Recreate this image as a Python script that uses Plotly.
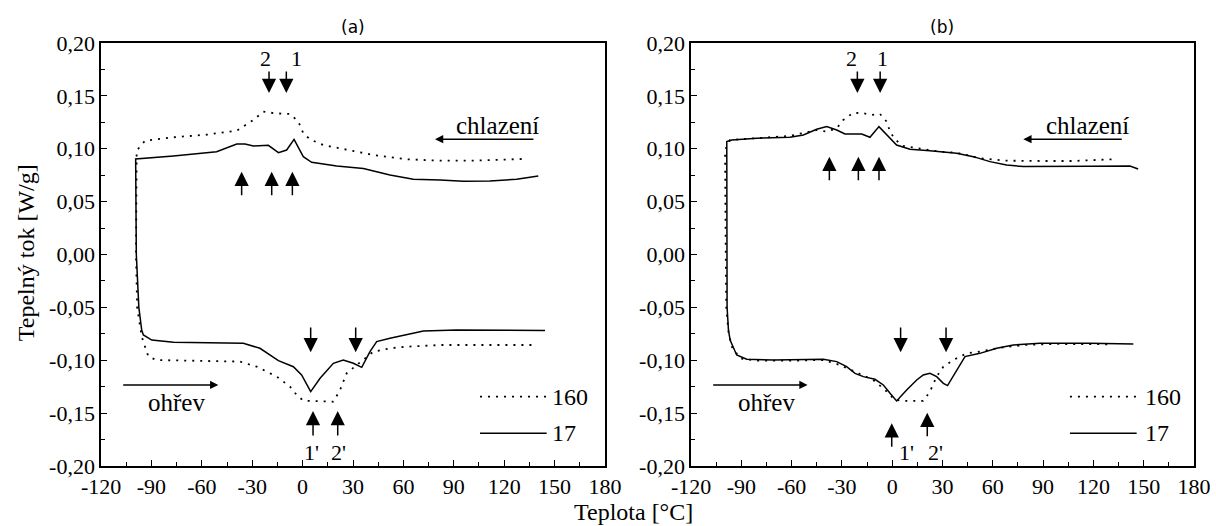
import plotly.graph_objects as go

# ---------------- data ----------------
# Panel (a): solid curve "17" (cooling branch right->left, then heating branch left->right)
A17_T = [140.3, 127.4, 111.5, 95.7, 81.8, 65.9, 52.0, 36.2, 20.3, 5.4, 0.4, -5.1, -9.5, -14.4,
         -20.4, -29.3, -34.3, -39.2, -51.2, -76.9, -99.4, -99.0, -97.5, -95.8, -94.8, -89.8,
         -76.9, -57.1, -35.3, -25.4, -19.4, -14.4, -5.5, -0.6, 4.8, 10.4, 18.3, 24.2, 30.2,
         35.2, 40.1, 44.1, 52.0, 63.9, 71.9, 91.7, 121.5, 144.3]
A17_W = [0.0742, 0.0711, 0.0695, 0.0692, 0.0704, 0.0711, 0.0752, 0.0812, 0.0837, 0.0872, 0.0925,
         0.1089, 0.0988, 0.0963, 0.1032, 0.1026, 0.1045, 0.1045, 0.0972, 0.0931, 0.0903, 0.0,
         -0.05, -0.0714, -0.0761, -0.0809, -0.0831, -0.0834, -0.0840, -0.0887, -0.0950, -0.1004,
         -0.1061, -0.1139, -0.1297, -0.1171, -0.1029, -0.0998, -0.1029, -0.1067, -0.0919,
         -0.0824, -0.0793, -0.0752, -0.0723, -0.0714, -0.0714, -0.0720]
# Panel (a): dotted curve "160"
A160_T = [130.4, 101.6, 81.8, 61.9, 42.1, 28.2, 12.3, 4.4, 0.4, -2.5, -7.5, -16.4, -23.4, -29.3,
          -39.2, -57.1, -76.9, -93.8, -98.8, -99.2, -98.5, -95.8, -91.8, -86.9, -67.0, -47.2,
          -37.3, -27.3, -15.4, -7.5, -3.5, 0.4, 18.3, 22.3, 26.2, 32.2, 42.1, 52.0, 61.9, 81.8,
          137.3]
A160_W = [0.0903, 0.0887, 0.0887, 0.0900, 0.0941, 0.0982, 0.1035, 0.1089, 0.1146, 0.1256, 0.1329,
          0.1335, 0.1351, 0.1272, 0.1171, 0.1133, 0.1108, 0.1076, 0.0982, 0.0, -0.05, -0.0777,
          -0.0966, -0.0998, -0.1004, -0.1004, -0.1013, -0.1061, -0.1155, -0.1250, -0.1329,
          -0.1382, -0.1392, -0.1281, -0.1124, -0.1045, -0.0919, -0.0887, -0.0872, -0.0856,
          -0.0856]
# Panel (b): solid curve "17"
B17_T = [146.7, 141.8, 117.9, 98.0, 78.2, 68.2, 58.3, 48.4, 38.4, 22.5, 10.6, 2.6, -3.3, -7.9,
         -13.3, -18.2, -28.2, -33.1, -39.1, -45.1, -53.0, -61.0, -80.8, -95.7, -98.7, -98.8,
         -98.5, -97.7, -96.7, -92.8, -86.8, -70.9, -51.0, -41.1, -33.1, -27.2, -22.2, -17.2,
         -10.3, -5.3, -1.3, 2.6, 8.6, 14.6, 18.5, 22.5, 26.5, 30.5, 33.0, 38.4, 43.4, 52.3,
         62.3, 72.2, 88.1, 117.9, 143.8]
B17_W = [0.0809, 0.0837, 0.0834, 0.0831, 0.0831, 0.0846, 0.0878, 0.0925, 0.0957, 0.0982, 0.0995,
         0.1035, 0.1130, 0.1209, 0.1108, 0.1139, 0.1139, 0.1177, 0.1209, 0.1184, 0.1130, 0.1108,
         0.1099, 0.1083, 0.1067, 0.0, -0.05, -0.0714, -0.0809, -0.0950, -0.0991, -0.0998,
         -0.0991, -0.0991, -0.1013, -0.1061, -0.1124, -0.1155, -0.1180, -0.1234, -0.1313,
         -0.1385, -0.1281, -0.1187, -0.1139, -0.1124, -0.1155, -0.1218, -0.1240, -0.1092,
         -0.0966, -0.0935, -0.0887, -0.0856, -0.0840, -0.0840, -0.0846]
# Panel (b): dotted curve "160"
B160_T = [130.8, 108.0, 88.1, 68.2, 52.3, 38.4, 28.5, 18.5, 6.6, 1.6, -1.3, -3.3, -7.3, -12.3,
          -17.2, -23.2, -29.2, -33.1, -39.1, -45.1, -53.0, -61.0, -96.7, -99.7, -99.3, -99.0,
          -97.7, -95.7, -90.8, -80.8, -61.0, -41.1, -31.2, -21.2, -11.3, -4.3, 1.6, 8.6, 18.5,
          22.5, 26.5, 30.5, 36.4, 44.4, 52.3, 62.3, 78.2, 98.0, 117.9, 129.9]
B160_W = [0.0900, 0.0884, 0.0884, 0.0887, 0.0909, 0.0963, 0.0972, 0.0995, 0.1026, 0.1089, 0.1162,
          0.1256, 0.1329, 0.1319, 0.1335, 0.1341, 0.1272, 0.1193, 0.1162, 0.1177, 0.1146, 0.1121,
          0.1083, 0.0988, 0.0, -0.05, -0.0730, -0.0872, -0.0982, -0.1004, -0.1004, -0.0998,
          -0.1045, -0.1117, -0.1187, -0.1281, -0.1376, -0.1385, -0.1385, -0.1297, -0.1155,
          -0.1061, -0.0998, -0.0935, -0.0919, -0.0887, -0.0856, -0.0846, -0.0846, -0.0849]

SERIES_NAMES = ["160", "17"]
PANEL_TITLES = ["(a)", "(b)"]
X_TITLE = "Teplota [°C]"
Y_TITLE = "Tepelný tok [W/g]"
X_TICKS = [-120, -90, -60, -30, 0, 30, 60, 90, 120, 150, 180]
X_TICKTEXT = ["-120", "-90", "-60", "-30", "0", "30", "60", "90", "120", "150", "180"]
Y_TICKS = [-0.20, -0.15, -0.10, -0.05, 0.0, 0.05, 0.10, 0.15, 0.20]
Y_TICKTEXT = ["-0,20", "-0,15", "-0,10", "-0,05", "0,00", "0,05", "0,10", "0,15", "0,20"]

# peak markers (T positions) per panel
A_TOP_DOWN = [-20.0, -9.7]
A_TOP_UP = [-36.3, -18.4, -6.1]
A_BOT_DOWN = [4.8, 31.6]
A_BOT_UP = [6.2, 20.9]
B_TOP_DOWN = [-20.8, -7.2]
B_TOP_UP = [-37.5, -20.2, -7.9]
B_BOT_DOWN = [5.0, 32.1]
B_BOT_UP = [-0.3, 20.9]

SERIF = '"Liberation Serif", "Times New Roman", Tinos, "Nimbus Roman", "DejaVu Serif", serif'
BLACK = "black"
DOT = "2px,6px"

fig = go.Figure()


def add_curves(t17, w17, t160, w160, xa, ya):
    fig.add_trace(go.Scatter(x=t160, y=w160, mode="lines", name=SERIES_NAMES[0],
                             line=dict(color=BLACK, width=1.8, dash=DOT),
                             xaxis=xa, yaxis=ya, showlegend=False, hoverinfo="skip"))
    fig.add_trace(go.Scatter(x=t17, y=w17, mode="lines", name=SERIES_NAMES[1],
                             line=dict(color=BLACK, width=1.5),
                             xaxis=xa, yaxis=ya, showlegend=False, hoverinfo="skip"))


add_curves(A17_T, A17_W, A160_T, A160_W, "x", "y")
add_curves(B17_T, B17_W, B160_T, B160_W, "x2", "y2")

YDOM = [0.1141, 0.9183]
axis_common = dict(showgrid=False, zeroline=False, showline=True, linecolor=BLACK,
                   linewidth=1.5, mirror=True, ticks="inside", ticklen=6, tickwidth=1.3,
                   tickcolor=BLACK, automargin=False,
                   tickfont=dict(family=SERIF, size=22, color=BLACK))
xax = dict(axis_common, range=[-120, 180], tickmode="array", tickvals=X_TICKS,
           ticktext=X_TICKTEXT,
           minor=dict(tickmode="linear", tick0=-120, dtick=15, ticks="inside", ticklen=4,
                      tickwidth=1.3, tickcolor=BLACK))
yax = dict(axis_common, range=[-0.2, 0.2], tickmode="array", tickvals=Y_TICKS,
           ticktext=Y_TICKTEXT, domain=YDOM,
           minor=dict(tickmode="linear", tick0=-0.2, dtick=0.025, ticks="inside",
                      ticklen=4, tickwidth=1.3, tickcolor=BLACK))

fig.update_layout(
    template="none",
    width=1216, height=526, margin=dict(l=0, r=0, t=0, b=0, pad=0, autoexpand=False),
    paper_bgcolor="white", plot_bgcolor="white", showlegend=False,
    font=dict(family=SERIF, color=BLACK),
    xaxis=dict(xax, domain=[0.0831, 0.4975], anchor="y"),
    yaxis=dict(yax, anchor="x"),
    xaxis2=dict(xax, domain=[0.5683, 0.9819], anchor="y2"),
    yaxis2=dict(yax, anchor="x2"),
)

ann = []
shapes = []


def arrow(xr, yr, x, y_tip, y_tail, size=1.9):
    ann.append(dict(xref=xr, yref=yr, axref=xr, ayref=yr, x=x, y=y_tip, ax=x, ay=y_tail,
                    text="", showarrow=True, arrowhead=2, arrowsize=size, arrowwidth=1.5,
                    arrowcolor=BLACK, standoff=0, startstandoff=0))


def harrow(xr, yr, x_tip, x_tail, y):
    ann.append(dict(xref=xr, yref=yr, axref=xr, ayref=yr, x=x_tip, y=y, ax=x_tail, ay=y,
                    text="", showarrow=True, arrowhead=2, arrowsize=1.1, arrowwidth=1.5,
                    arrowcolor=BLACK, standoff=0, startstandoff=0))


def label(xr, yr, x, y, text, size=22, xanchor="center"):
    ann.append(dict(xref=xr, yref=yr, x=x, y=y, text=text, showarrow=False,
                    xanchor=xanchor, yanchor="middle",
                    font=dict(family=SERIF, size=size, color=BLACK)))


def panel_annotations(xr, yr, top_down, top_up, bot_down, bot_up, top_up_y,
                      lbl_top, lbl_bot, bot_up_y, chl_x, ohr_x, leg_x):
    for x in top_down:
        arrow(xr, yr, x, 0.1527, 0.1745)
    for x in top_up:
        arrow(xr, yr, x, top_up_y[0], top_up_y[1])
    for x in bot_down:
        arrow(xr, yr, x, -0.0925, -0.0676)
    for x, (yt, yb) in zip(bot_up, bot_up_y):
        arrow(xr, yr, x, yt, yb)
    label(xr, yr, lbl_top[0], 0.1855, "2")
    label(xr, yr, lbl_top[1], 0.1855, "1")
    label(xr, yr, lbl_bot[0], -0.1877, "1'")
    label(xr, yr, lbl_bot[1], -0.1877, "2'")
    # chlazeni / ohrev
    label(xr, yr, chl_x[0], 0.1215, "chlazení", size=25)
    harrow(xr, yr, chl_x[1], chl_x[2], 0.109)
    label(xr, yr, ohr_x[0], -0.1404, "ohřev", size=25)
    harrow(xr, yr, ohr_x[2], ohr_x[1], -0.1234)
    # legend
    shapes.append(dict(type="line", xref=xr, yref=yr, x0=leg_x[0], x1=leg_x[1],
                       y0=-0.1345, y1=-0.1345, line=dict(color=BLACK, width=1.8, dash=DOT)))
    shapes.append(dict(type="line", xref=xr, yref=yr, x0=leg_x[0], x1=leg_x[1],
                       y0=-0.1691, y1=-0.1691, line=dict(color=BLACK, width=1.5)))
    label(xr, yr, leg_x[2], -0.1345, SERIES_NAMES[0], size=24, xanchor="left")
    label(xr, yr, leg_x[2], -0.1691, SERIES_NAMES[1], size=24, xanchor="left")


panel_annotations("x", "y", A_TOP_DOWN, A_TOP_UP, A_BOT_DOWN, A_BOT_UP, (0.0783, 0.0547),
                  (-21.8, -3.6), (5.0, 21.4), [(-0.148, -0.1726), (-0.148, -0.1726)],
                  (116.0, 78.8, 138.3), (-74.9, -107.7, -50.2), (105.6, 145.3, 147.5))
panel_annotations("x2", "y2", B_TOP_DOWN, B_TOP_UP, B_BOT_DOWN, B_BOT_UP, (0.0925, 0.0688),
                  (-24.3, -6.1), (8.5, 26.1), [(-0.1596, -0.1833), (-0.1496, -0.1733)],
                  (116.4, 78.2, 137.8), (-74.9, -107.7, -50.5), (106.0, 145.8, 149.7))

# titles
for xp, t in zip([0.290, 0.775], PANEL_TITLES):
    ann.append(dict(xref="paper", yref="paper", x=xp, y=0.949, text=t, showarrow=False,
                    xanchor="center", yanchor="middle",
                    font=dict(family="DejaVu Sans", size=17, color=BLACK)))
ann.append(dict(xref="paper", yref="paper", x=0.521, y=0.026, text=X_TITLE, showarrow=False,
                xanchor="center", yanchor="middle",
                font=dict(family=SERIF, size=24, color=BLACK)))
ann.append(dict(xref="paper", yref="paper", x=0.022, y=0.52, text=Y_TITLE, showarrow=False,
                textangle=-90, xanchor="center", yanchor="middle",
                font=dict(family=SERIF, size=24, color=BLACK)))

fig.update_layout(annotations=ann, shapes=shapes)
fig.write_html("out.html")
